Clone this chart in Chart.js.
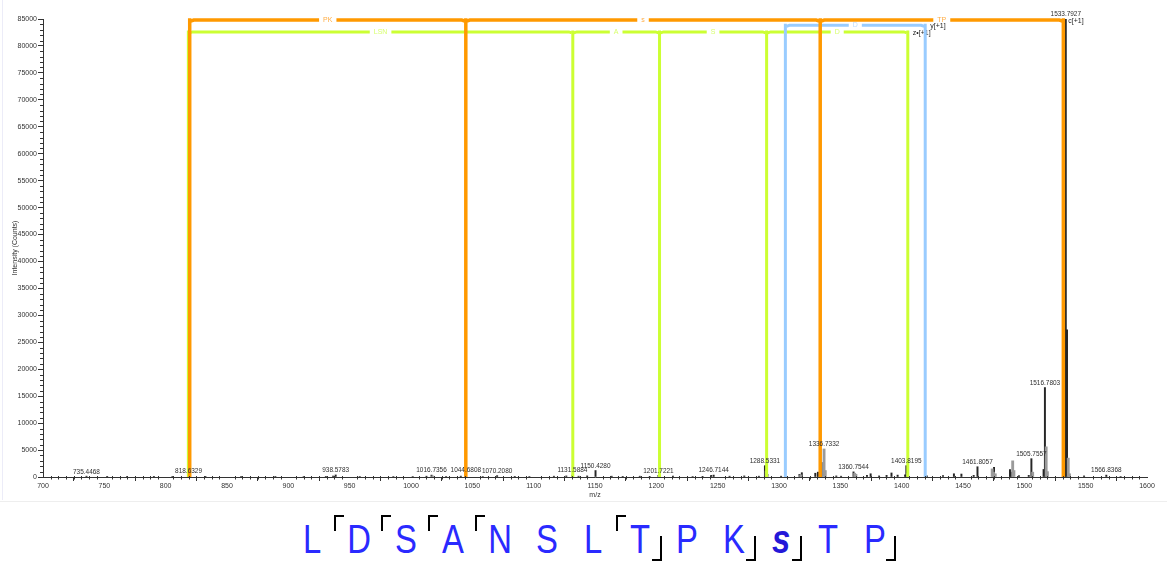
<!DOCTYPE html>
<html>
<head>
<meta charset="utf-8">
<script src="https://cdn.jsdelivr.net/npm/chart.js@4.4.1/dist/chart.umd.min.js"></script>
<style>
  html, body { margin: 0; padding: 0; background: #fff; width: 1167px; height: 565px; overflow: hidden; }
  #wrap { position: relative; width: 1167px; height: 565px; font-family: "Liberation Sans", Arial, sans-serif; }
  #spec { position: absolute; left: 0; top: 0; }
  #edge { position: absolute; left: 2px; top: 0; width: 1px; height: 500px; background: #ececf8; }
  #sep { position: absolute; left: 0; top: 501px; width: 1167px; height: 1px; background: #eeeeee; }
  #seq { position: absolute; left: 0; top: 502px; width: 1167px; height: 63px; }
  .res { position: absolute; top: 17px; font-size: 40px; line-height: 40px; color: #2a2aff;
         white-space: nowrap; transform: translateX(-50%) scaleX(0.82); }
  .res.mod { font-weight: bold; font-style: italic; color: #2418d8; }
  .tl { position: absolute; top: 13px; width: 10px; height: 16px; box-sizing: border-box;
        border-top: 2.5px solid #000; border-left: 2.5px solid #000; }
  .br { position: absolute; top: 34px; width: 10px; height: 25px; box-sizing: border-box;
        border-bottom: 2.5px solid #000; border-right: 2.5px solid #000; }
</style>
</head>
<body>
<div id="wrap">
  <canvas id="spec" width="1167" height="500"></canvas>
  <div id="edge"></div>
  <div id="sep"></div>
  <div id="seq"></div>
</div>
<script>
// ---- spectrum: centroid peaks (m/z, counts) ----
const peakMz = [735.4468, 752.3, 768.5, 790.4, 805.5, 818.6329, 832.4, 861.5, 889.4, 912.5,
  930.6, 936.5, 938.5783, 958.2, 985.6, 1001.4, 1012.6, 1016.7356, 1028.6, 1040.6,
  1044.6808, 1058.5, 1070.2080, 1084.6, 1096.5, 1116.5, 1126.6, 1131.5884, 1136.6, 1143.6,
  1150.4280, 1163.6, 1172.6, 1186.5, 1194.6, 1201.7221, 1213.6, 1229.6, 1237.7, 1244.7,
  1246.7144, 1259.7, 1271.7, 1283.6, 1288.5331, 1301.7, 1316.7, 1318.6, 1329.6, 1331.7,
  1334.7, 1346.7, 1350.6, 1360.7544, 1371.7, 1374.7, 1381.6, 1387.7, 1391.7, 1396.7,
  1402.8, 1403.8195, 1420.6, 1433.7, 1442.6, 1448.7, 1458.7, 1461.8057, 1475.3, 1488.3,
  1489.2, 1495.6, 1503.6, 1505.7557, 1515.7, 1516.7803, 1531.7, 1533.2, 1533.7927, 1534.79,
  1548.7, 1566.8368, 1578.5];
const peakInt = [150, 60, 80, 60, 70, 250, 60, 80, 70, 90,
  120, 180, 380, 80, 100, 90, 150, 350, 100, 160,
  450, 100, 250, 120, 100, 150, 200, 350, 150, 200,
  1200, 150, 120, 150, 100, 300, 150, 100, 120, 300,
  350, 150, 200, 150, 2100, 150, 500, 800, 700, 900,
  2700, 200, 150, 950, 300, 600, 200, 300, 750, 350,
  400, 2100, 200, 250, 600, 550, 300, 1900, 1800, 1400,
  900, 250, 300, 3400, 1400, 16600, 400, 16200, 85000, 27300,
  200, 350, 100];

// ---- spectrum: isotope / profile peaks ----
const isoMz = [1017.7, 1289.5, 1290.5, 1317.7, 1336.7332, 1337.7, 1361.7, 1362.7, 1404.8, 1473.8,
  1474.8, 1476.3, 1490.5, 1491.5, 1506.8, 1517.8, 1518.8, 1535.8, 1536.8];
const isoInt = [200, 1100, 500, 400, 5200, 1200, 700, 500, 600, 1500,
  900, 600, 3000, 1200, 900, 5600, 1000, 3500, 600];

// peaks that carry an m/z label
const labelMz = [735.4468, 818.6329, 938.5783, 1016.7356, 1044.6808, 1070.2080, 1131.5884,
  1150.4280, 1201.7221, 1246.7144, 1288.5331, 1336.7332, 1360.7544, 1403.8195, 1461.8057,
  1505.7557, 1516.7803, 1533.7927, 1566.8368];

// ---- fragment ladders ----
const cIonMz = [819.6, 1044.68, 1333.6, 1531.8];
const cIonGaps = ['PK', 's', 'TP'];
const yIonMz = [1305.2, 1419.2];
const yIonGaps = ['D'];
const zIonMz = [818.5, 1131.9, 1202.6, 1289.9, 1405.0];
const zIonGaps = ['LSN', 'A', 'S', 'D'];
const ladderLevels = { c: 84800, y: 83830, z: 82600 };

// ---- axes ----
const mzRange = [700, 1600];
const mzMajor = 50, mzMinor = 6.25;
const intMax = 85000, intMajor = 5000, intMinor = 1000;

// ---- peptide sequence ----
const residues = ['L', 'D', 'S', 'A', 'N', 'S', 'L', 'T', 'P', 'K', 's', 'T', 'P'];
const nTermBreaks = [1, 2, 3, 4, 7];     // bracket drawn before these residues
const cTermBreaks = [7, 9, 10, 12];      // bracket drawn after these residues

const FONT = '"Liberation Sans", Arial, sans-serif';
Chart.defaults.font.family = FONT;

const intensityOf = new Map();
peakMz.forEach((m, i) => intensityOf.set(m, peakInt[i]));
isoMz.forEach((m, i) => intensityOf.set(m, isoInt[i]));

const minorTicks = {
  id: 'minorTicks',
  afterDraw(chart) {
    const { ctx, scales: { x, y } } = chart;
    ctx.save();
    ctx.strokeStyle = '#333';
    ctx.lineWidth = 1;
    ctx.beginPath();
    for (let v = mzRange[0]; v <= mzRange[1] + 1e-6; v += mzMinor) {
      if (Math.abs(v / mzMajor - Math.round(v / mzMajor)) < 1e-6) continue;
      const px = Math.round(x.getPixelForValue(v)) + 0.5;
      ctx.moveTo(px, y.bottom - 1);
      ctx.lineTo(px, y.bottom + 2.5);
    }
    for (let v = 0; v <= intMax; v += intMinor) {
      if (v % intMajor === 0) continue;
      const py = Math.round(y.getPixelForValue(v)) + 0.5;
      ctx.moveTo(x.left - 3, py);
      ctx.lineTo(x.left, py);
    }
    ctx.stroke();
    ctx.restore();
  }
};

const peakLabels = {
  id: 'peakLabels',
  afterDatasetsDraw(chart) {
    const { ctx, scales: { x, y } } = chart;
    ctx.save();
    ctx.font = '7.5px ' + FONT;
    ctx.fillStyle = '#2e2e2e';
    ctx.textAlign = 'center';
    ctx.textBaseline = 'bottom';
    labelMz.forEach(m => {
      const px = x.getPixelForValue(m);
      const py = y.getPixelForValue(intensityOf.get(m));
      ctx.save();
      ctx.translate(px, py - 1);
      ctx.scale(0.86, 1);
      ctx.fillText(m.toFixed(4), 0, 0);
      ctx.restore();
    });
    ctx.restore();
  }
};

const ladderPlugin = {
  id: 'ladders',
  afterDatasetsDraw(chart) {
    const { ctx, scales: { x, y } } = chart;
    const series = [
      { mz: zIonMz, gaps: zIonGaps, level: ladderLevels.z, color: '#ccff33', label: '#d8ff70', end: 'z\u2022[+1]', w: 3 },
      { mz: yIonMz, gaps: yIonGaps, level: ladderLevels.y, color: '#99ccff', label: '#bcdcff', end: 'y[+1]', w: 3 },
      { mz: cIonMz, gaps: cIonGaps, level: ladderLevels.c, color: '#ff9900', label: '#ffad45', end: 'c[+1]', w: 3.5 }
    ];
    ctx.save();
    ctx.font = '7px ' + FONT;
    ctx.textBaseline = 'middle';
    series.forEach(s => {
      const ly = y.getPixelForValue(s.level);
      const base = y.getPixelForValue(0);
      const xs = s.mz.map(m => x.getPixelForValue(m));
      ctx.strokeStyle = s.color;
      ctx.lineWidth = s.w;
      ctx.lineJoin = 'miter';
      ctx.lineCap = 'butt';
      // verticals
      xs.forEach(px => {
        ctx.beginPath();
        ctx.moveTo(px, base);
        ctx.lineTo(px, ly - s.w / 2);
        ctx.stroke();
      });
      // horizontal steps with a gap for the residue text
      for (let i = 0; i < xs.length - 1; i++) {
        const a = xs[i], b = xs[i + 1];
        const mid = (a + b) / 2;
        const tw = ctx.measureText(s.gaps[i]).width;
        const g = tw / 2 + 4;
        ctx.beginPath();
        ctx.moveTo(a + 1, ly + 1);
        ctx.lineTo(a + 4, ly);
        ctx.lineTo(mid - g, ly);
        ctx.moveTo(mid + g, ly);
        ctx.lineTo(b - 4, ly);
        ctx.lineTo(b - 1, ly + 1);
        ctx.stroke();
        ctx.fillStyle = s.label;
        ctx.textAlign = 'center';
        ctx.fillText(s.gaps[i], mid, ly);
      }
      ctx.fillStyle = '#222';
      ctx.textAlign = 'left';
      ctx.fillText(s.end, xs[xs.length - 1] + 5, ly + 1);
    });
    ctx.restore();
  }
};

const plainTick = v => String(v);

new Chart(document.getElementById('spec'), {
  type: 'bar',
  data: {
    datasets: [
      {
        label: 'isotopes',
        data: isoMz.map((m, i) => ({ x: m, y: isoInt[i] })),
        backgroundColor: '#9a9a9a',
        barThickness: 2.2
      },
      {
        label: 'peaks',
        data: peakMz.map((m, i) => ({ x: m, y: peakInt[i] })),
        backgroundColor: '#262626',
        barThickness: 1.3
      }
    ]
  },
  options: {
    responsive: false,
    animation: false,
    devicePixelRatio: 1,
    layout: { padding: { top: 19, right: 20, left: 0, bottom: 0 } },
    plugins: { legend: { display: false }, tooltip: { enabled: false } },
    scales: {
      x: {
        type: 'linear',
        stacked: true,
        min: mzRange[0],
        max: mzRange[1],
        offset: false,
        afterFit: s => { s.height = 23; },
        ticks: { stepSize: mzMajor, autoSkip: false, maxRotation: 0, color: '#333', font: { size: 7 }, padding: 1, callback: plainTick },
        grid: { drawOnChartArea: false, tickLength: 4, color: '#333' },
        border: { color: '#333' },
        title: { display: true, text: 'm/z', color: '#333', font: { size: 7 }, padding: { top: 0, bottom: 1 } }
      },
      y: {
        min: 0,
        max: intMax,
        afterFit: s => { s.width = 43; },
        ticks: { stepSize: intMajor, color: '#333', font: { size: 7 }, padding: 1, callback: plainTick },
        grid: { drawOnChartArea: false, tickLength: 5, color: '#333' },
        border: { color: '#333' },
        title: { display: true, text: 'Intensity (Counts)', color: '#333', font: { size: 7 }, padding: { top: 11, bottom: 0 } }
      }
    }
  },
  plugins: [minorTicks, ladderPlugin, peakLabels]
});

// ---- sequence with fragment brackets ----
const seqEl = document.getElementById('seq');
const seqX0 = 312, seqStep = 46.9;
residues.forEach((r, i) => {
  const s = document.createElement('span');
  s.className = 'res' + (r === r.toLowerCase() ? ' mod' : '');
  s.textContent = r;
  s.style.left = (seqX0 + i * seqStep) + 'px';
  seqEl.appendChild(s);
});
nTermBreaks.forEach(i => {
  const d = document.createElement('div');
  d.className = 'tl';
  d.style.left = (seqX0 + (i - 0.5) * seqStep - 1) + 'px';
  seqEl.appendChild(d);
});
cTermBreaks.forEach(i => {
  const d = document.createElement('div');
  d.className = 'br';
  d.style.left = (seqX0 + (i + 0.5) * seqStep - 12) + 'px';
  seqEl.appendChild(d);
});
</script>
</body>
</html>
